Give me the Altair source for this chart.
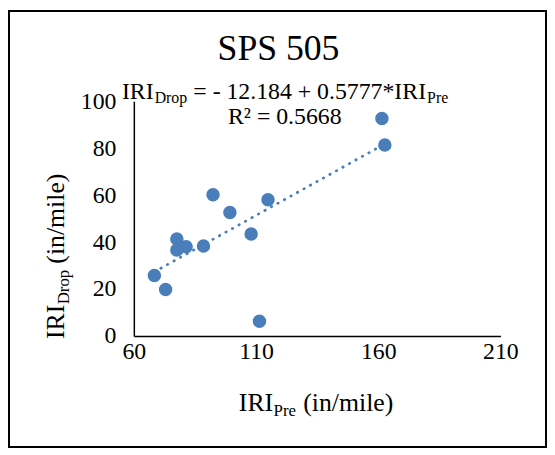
import altair as alt
import pandas as pd

# ---- data ----
iri_pre = [68.4, 73.0, 77.6, 77.6, 81.4, 88.5, 92.4, 99.3, 108.0, 111.4, 114.9, 161.5, 162.7]
iri_drop = [25.8, 19.8, 41.3, 36.6, 38.0, 38.3, 60.2, 52.6, 43.4, 6.3, 58.0, 92.6, 81.3]
intercept = -12.184
slope = 0.5777
x_ticks = [60, 110, 160, 210]
y_ticks = [0, 20, 40, 60, 80, 100]
title_text = "SPS 505"
eq_text = "= - 12.184 + 0.5777*IRI"
r2_text = "R² = 0.5668"

FONT = "Liberation Serif"
BLUE = "#4a7ebb"

pts = pd.DataFrame({"pre": iri_pre, "drop": iri_drop})
trend = pd.DataFrame({"pre": [min(iri_pre), max(iri_pre)]})
one = pd.DataFrame({"a": [0]})

xs = alt.Scale(domain=[60, 210], nice=False, zero=False)
ys = alt.Scale(domain=[0, 100], nice=False)

xax = alt.Axis(values=x_ticks, title=None, labelPadding=4, labelFlush=False,
               labelFont=FONT, labelFontSize=24)
yax = alt.Axis(values=y_ticks, title=None, labelPadding=18,
               labelFont=FONT, labelFontSize=24)

points = alt.Chart(pts).mark_circle(size=185, color=BLUE, opacity=1).encode(
    x=alt.X("pre:Q", scale=xs, axis=xax),
    y=alt.Y("drop:Q", scale=ys, axis=yax),
)

line = alt.Chart(trend).transform_calculate(
    fit=f"{intercept} + {slope} * datum.pre"
).mark_line(
    color=BLUE, strokeWidth=2.75, strokeDash=[0.5, 7], strokeCap="round"
).encode(
    x=alt.X("pre:Q", scale=xs),
    y=alt.Y("fit:Q", scale=ys),
)


def txt(text, x, y, size=24, align="left", angle=0, baseline="alphabetic"):
    kw = dict(text=text, font=FONT, fontSize=size, align=align,
              baseline=baseline, color="black")
    if angle:
        kw["angle"] = angle
    return alt.Chart(one).mark_text(**kw).encode(x=alt.value(x), y=alt.value(y))


border = alt.Chart(one).mark_rect(
    fill="transparent", stroke="black", strokeWidth=2
).encode(
    x=alt.value(-126), x2=alt.value(416), y=alt.value(-91), y2=alt.value(349)
)

layers = [
    border,
    points,
    line,
    txt(title_text, 146, -42, size=36, align="center"),
    # equation
    txt("IRI", -12, -2),
    txt("Drop", 21, 2, size=16),
    txt(eq_text, 60, -2),
    txt("Pre", 296, 2, size=16),
    txt(r2_text, 95, 23),
    # x axis title
    txt("IRI", 106, 313, size=26),
    txt("Pre", 141, 318, size=17),
    txt("(in/mile)", 171, 313, size=26),
    # y axis title (rotated)
    txt("IRI", -70, 240, size=26, angle=270),
    txt("Drop", -65, 205, size=17, angle=270),
    txt("(in/mile)", -70, 164, size=26, angle=270),
]

chart = alt.layer(*layers).properties(
    width=370,
    height=237,
    autosize=alt.AutoSizeParams(type="none"),
    padding={"left": 127, "top": 92, "right": 47, "bottom": 114},
).configure_view(
    strokeWidth=0
).configure_axis(
    grid=False,
    ticks=False,
    domainColor="black",
    domainWidth=1.5,
    labelFont=FONT,
    labelFontSize=24,
    labelColor="black",
)

chart.save("out.html", embed_options={"renderer": "svg", "actions": False})
